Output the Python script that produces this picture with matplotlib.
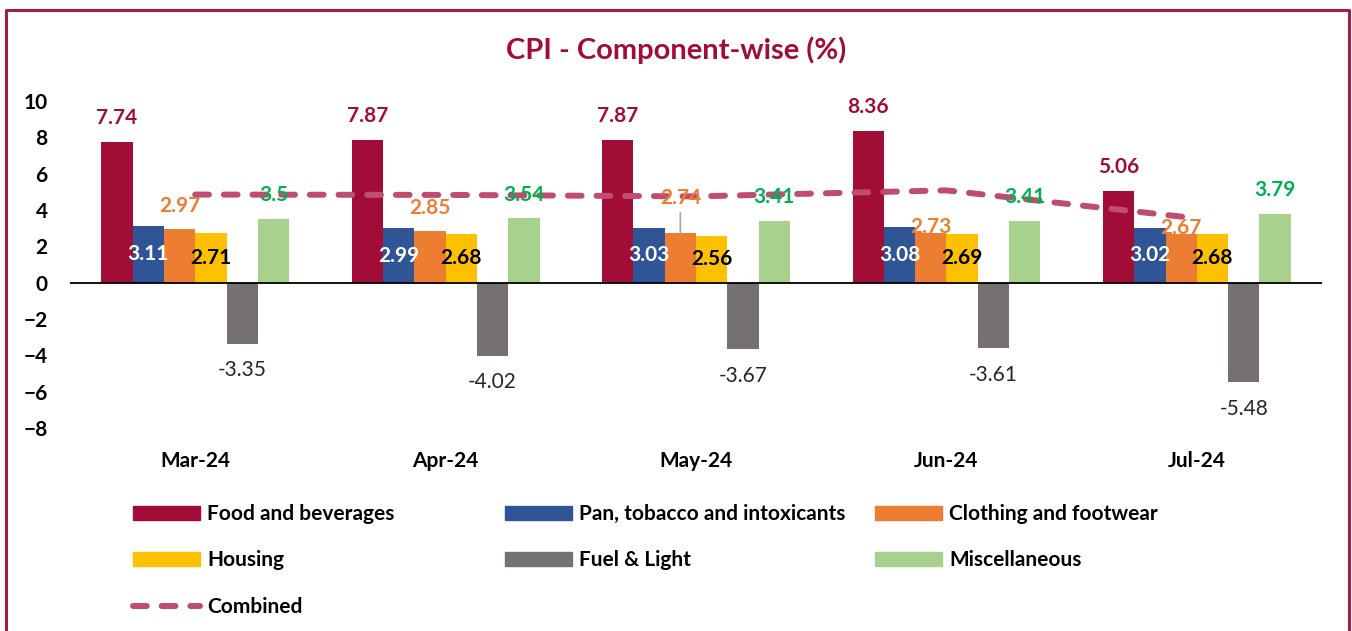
import numpy as np
import matplotlib
matplotlib.use('Agg')
import matplotlib.pyplot as plt
from matplotlib.lines import Line2D
from matplotlib.patches import Patch

plt.rcParams['font.family'] = ['Lato', 'DejaVu Sans']

# data
months = ['Mar-24', 'Apr-24', 'May-24', 'Jun-24', 'Jul-24']
food = [7.74, 7.87, 7.87, 8.36, 5.06]
pan = [3.11, 2.99, 3.03, 3.08, 3.02]
clothing = [2.97, 2.85, 2.74, 2.73, 2.67]
housing = [2.71, 2.68, 2.56, 2.69, 2.68]
fuel = [-3.35, -4.02, -3.67, -3.61, -5.48]
misc = [3.5, 3.54, 3.41, 3.41, 3.79]
combined = [4.85, 4.83, 4.75, 5.08, 3.54]

names = ['Food and beverages', 'Pan, tobacco and intoxicants', 'Clothing and footwear',
         'Housing', 'Fuel & Light', 'Miscellaneous']
colors = ['#A20D38', '#2F5597', '#ED7D31', '#FFC000', '#767171', '#A9D18E']
series = [food, pan, clothing, housing, fuel, misc]

maroon = '#A20D38'
FS = 15
W, H = 1352, 631
fig = plt.figure(figsize=(W / 100, H / 100), dpi=100)
ax = fig.add_axes([70 / W, 1 - 428 / H, 1252 / W, 327 / H])

x = np.arange(len(months))
bw = 0.125
bars = []
for i, (vals, c, n) in enumerate(zip(series, colors, names)):
    b = ax.bar(x + (i - 2.5) * bw, vals, bw, color=c, label=n, zorder=2)
    bars.append(b)

ax.axhline(0, color='black', lw=1.3, zorder=3)

ax.plot(x, combined, color='#BF4D6F', lw=4.3, dashes=(2.3, 2.5),
        dash_capstyle='round', zorder=4, label='Combined')

bold = dict(fontsize=FS, fontweight='bold', ha='center', va='center')

# value labels
for b, v in zip(bars[0], food):
    ax.annotate(f'{v:g}', (b.get_x() + bw / 2, v), xytext=(0, 17),
                textcoords='offset points', color=maroon, zorder=5, **bold)
for b, v in zip(bars[1], pan):
    ax.annotate(f'{v:.2f}', (b.get_x() + bw / 2, v / 2), color='white', zorder=5, **bold)
clo_off = [16.5, 16.5, 25, 4.5, 4.5]
for b, v, o in zip(bars[2], clothing, clo_off):
    ax.annotate(f'{v:.2f}', (b.get_x() + bw / 2, v), xytext=(0, o),
                textcoords='offset points', color='#ED7D31', zorder=5, **bold)
# leader line for the shifted May label
bm = bars[2][2]
ax.annotate('', (bm.get_x() + bw / 2, clothing[2]), xytext=(0, 14.5),
            textcoords='offset points',
            arrowprops=dict(arrowstyle='-', color='#A6A6A6', lw=1.2, shrinkA=0, shrinkB=0))
for b, v in zip(bars[3], housing):
    ax.annotate(f'{v:.2f}', (b.get_x() + bw / 2, v / 2), color='black', zorder=5, **bold)
for b, v in zip(bars[4], fuel):
    ax.annotate(f'{v:.2f}', (b.get_x() + bw / 2, v), xytext=(0, -19),
                textcoords='offset points', color='#262626', fontsize=FS,
                ha='center', va='center', zorder=5)
for b, v in zip(bars[5], misc):
    ax.annotate(f'{v:g}', (b.get_x() + bw / 2, v), xytext=(0, 17),
                textcoords='offset points', color='#00B050', zorder=5, **bold)

ax.set_xlim(-0.5, len(months) - 0.5)
ax.set_ylim(-8, 10)
ax.set_yticks(np.arange(-8, 11, 2))
ax.set_xticks(x)
ax.set_xticklabels(months)
ax.tick_params(axis='both', length=0, labelsize=FS)
ax.tick_params(axis='x', pad=16.5)
ax.tick_params(axis='y', pad=16)
for lab in ax.get_xticklabels() + ax.get_yticklabels():
    lab.set_fontweight('bold')
for s in ax.spines.values():
    s.set_visible(False)

fig.text(676 / W, 1 - 50 / H, 'CPI - Component-wise (%)', color=maroon,
         fontsize=21, fontweight='bold', ha='center', va='center')

# legend in three columns like the original
line_h = Line2D([], [], color='#BF4D6F', lw=4.3, dashes=(2.3, 2.5), dash_capstyle='round')
cols = [
    ([Patch(color=colors[0]), Patch(color=colors[3]), line_h], [names[0], names[3], 'Combined'], 133),
    ([Patch(color=colors[1]), Patch(color=colors[4])], [names[1], names[4]], 505),
    ([Patch(color=colors[2]), Patch(color=colors[5])], [names[2], names[5]], 875),
]
for hs, ls, xl in cols:
    leg = fig.legend(hs, ls, loc='upper left', bbox_to_anchor=(xl / W, 1 - 504 / H),
                     frameon=False, borderpad=0, borderaxespad=0, handlelength=3.22,
                     handleheight=0.68, handletextpad=0.34, labelspacing=1.27,
                     prop=dict(size=FS, weight='bold'))

# outer border
fig.add_artist(Line2D([6 / W, 6 / W, 1349 / W, 1349 / W], [0, 1 - 10 / H, 1 - 10 / H, 0],
                      color='#A51C48', lw=2.2, transform=fig.transFigure))

fig.savefig('out.png', dpi=100)
